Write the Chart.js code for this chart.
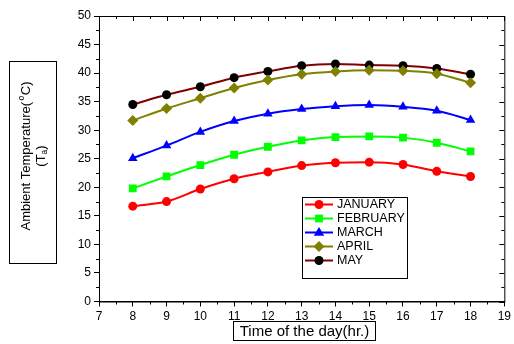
<!DOCTYPE html>
<html>
<head>
<meta charset="utf-8">
<script src="https://cdn.jsdelivr.net/npm/chart.js@4/dist/chart.umd.min.js"></script>
<style>
  html, body { margin: 0; padding: 0; background: #fff; }
  #wrap { width: 514px; height: 344px; position: relative; }
</style>
</head>
<body>
<div id="wrap"><canvas id="chart"></canvas></div>
<script>
// hours of the day (x values)
const hours = [8, 9, 10, 11, 12, 13, 14, 15, 16, 17, 18];

// ambient temperature readings per month
const january = [16.7, 17.5, 19.7, 21.5, 22.7, 23.8, 24.3, 24.4, 24.0, 22.8, 21.9];
const february = [19.8, 21.9, 23.9, 25.7, 27.1, 28.2, 28.8, 28.9, 28.7, 27.8, 26.3];
const march = [25.1, 27.3, 29.7, 31.6, 32.9, 33.7, 34.2, 34.4, 34.1, 33.4, 31.8];
const april = [31.7, 33.8, 35.6, 37.4, 38.8, 39.8, 40.3, 40.5, 40.4, 39.9, 38.3];
const may = [34.5, 36.2, 37.6, 39.2, 40.3, 41.3, 41.6, 41.4, 41.3, 40.8, 39.8];

const monthNames = ['JANUARY', 'FEBRUARY', 'MARCH', 'APRIL', 'MAY'];

const FONT = 'Arial, "Liberation Sans", sans-serif';

const toPoints = vals => vals.map((v, i) => ({ x: hours[i], y: v }));

const makeSet = (label, vals, line, fill, style, radius) => ({
  label,
  data: toPoints(vals),
  borderColor: line,
  backgroundColor: fill,
  pointBackgroundColor: fill,
  pointBorderColor: fill,
  pointBorderWidth: 0,
  pointStyle: style,
  pointRadius: radius,
  borderWidth: 2,
  cubicInterpolationMode: 'monotone',
});

const datasets = [
  makeSet(monthNames[0], january, '#ff0000', '#ff0000', 'circle', 4.5),
  makeSet(monthNames[1], february, '#00ff00', '#00ff00', 'rect', 5.5),
  makeSet(monthNames[2], march, '#0000ff', '#0000ff', 'triangle', 5.5),
  makeSet(monthNames[3], april, '#808000', '#808000', 'rectRot', 5.5),
  makeSet(monthNames[4], may, '#800000', '#000000', 'circle', 4.5),
];

// Draw a small marker for the legend
function drawMarker(ctx, style, x, y, r, color) {
  ctx.fillStyle = color;
  ctx.beginPath();
  if (style === 'circle') {
    ctx.arc(x, y, r, 0, Math.PI * 2);
  } else if (style === 'rect') {
    const s = r * Math.SQRT1_2;
    ctx.rect(x - s, y - s, 2 * s, 2 * s);
  } else if (style === 'triangle') {
    ctx.moveTo(x, y - r);
    ctx.lineTo(x + r * 0.95, y + r * 0.6);
    ctx.lineTo(x - r * 0.95, y + r * 0.6);
    ctx.closePath();
  } else if (style === 'rectRot') {
    ctx.moveTo(x, y - r);
    ctx.lineTo(x + r, y);
    ctx.lineTo(x, y + r);
    ctx.lineTo(x - r, y);
    ctx.closePath();
  }
  ctx.fill();
}

// Frame, mirrored ticks, minor ticks, boxed titles and the inset legend
const decorations = {
  id: 'decorations',
  afterDraw(chart) {
    const ctx = chart.ctx;
    const { left, right, top, bottom } = chart.chartArea;
    const xs = chart.scales.x;
    const ys = chart.scales.y;
    ctx.save();
    ctx.strokeStyle = '#000';
    ctx.lineWidth = 1;

    // frame
    ctx.strokeRect(left + 0.5, top + 0.5, right - left, bottom - top);

    ctx.beginPath();
    for (let v = 7; v <= 19; v += 0.5) {
      const px = Math.round(xs.getPixelForValue(v)) + 0.5;
      const major = Number.isInteger(v);
      const len = major ? 5 : 3;
      // top inward ticks
      ctx.moveTo(px, top);
      ctx.lineTo(px, top + len);
      if (!major) {
        ctx.moveTo(px, bottom);
        ctx.lineTo(px, bottom + len);
      }
    }
    for (let v = 0; v <= 50; v += 2.5) {
      const py = Math.round(ys.getPixelForValue(v)) + 0.5;
      const major = v % 5 === 0;
      const len = major ? 5 : 3;
      // right inward ticks
      ctx.moveTo(right, py);
      ctx.lineTo(right - len, py);
      if (!major) {
        ctx.moveTo(left, py);
        ctx.lineTo(left - len, py);
      }
    }
    ctx.stroke();

    // x title box
    ctx.fillStyle = '#000';
    ctx.font = '15px ' + FONT;
    ctx.textAlign = 'center';
    ctx.textBaseline = 'middle';
    ctx.strokeRect(233.5, 321.5, 142, 19);
    ctx.fillText('Time of the day(hr.)', 304.5, 331.5);

    // y title box
    const big = '13px ' + FONT;
    const small = '8.5px ' + FONT;
    ctx.strokeRect(9.5, 61.5, 47, 202);
    ctx.save();
    ctx.translate(26, 156);
    ctx.rotate(-Math.PI / 2);
    ctx.textAlign = 'left';
    const p1 = 'Ambient Temperature(';
    const p2 = 'C)';
    ctx.font = big;
    const w1 = ctx.measureText(p1).width;
    const w2 = ctx.measureText(p2).width;
    ctx.font = small;
    const wo = ctx.measureText('o').width + 2;
    const x0 = -(w1 + wo + w2) / 2;
    ctx.font = big;
    ctx.fillText(p1, x0, 0);
    ctx.font = small;
    ctx.fillText('o', x0 + w1 + 1.5, -4);
    ctx.font = big;
    ctx.fillText(p2, x0 + w1 + wo, 0);
    ctx.restore();

    ctx.save();
    ctx.translate(41, 156);
    ctx.rotate(-Math.PI / 2);
    ctx.textAlign = 'left';
    ctx.font = big;
    const a = ctx.measureText('(T').width;
    const c = ctx.measureText(')').width;
    ctx.font = small;
    const b = ctx.measureText('a').width;
    const s0 = -(a + b + c) / 2;
    ctx.font = big;
    ctx.fillText('(T', s0, 0);
    ctx.font = small;
    ctx.fillText('a', s0 + a, 4);
    ctx.font = big;
    ctx.fillText(')', s0 + a + b, 0);
    ctx.restore();

    // legend
    ctx.strokeStyle = '#000';
    ctx.lineWidth = 1;
    ctx.strokeRect(302.5, 197.5, 105, 81);
    ctx.font = '12.5px ' + FONT;
    ctx.textAlign = 'left';
    ctx.textBaseline = 'middle';
    const rows = [204.5, 218.5, 232.5, 246.5, 260.5];
    chart.data.datasets.forEach((ds, i) => {
      const y = rows[i];
      ctx.strokeStyle = ds.borderColor;
      ctx.lineWidth = 2;
      ctx.beginPath();
      ctx.moveTo(305, y);
      ctx.lineTo(333, y);
      ctx.stroke();
      drawMarker(ctx, ds.pointStyle, 319, y, ds.pointRadius, ds.pointBackgroundColor);
      ctx.fillStyle = '#000';
      ctx.fillText(ds.label, 337, y + 0.5);
    });

    ctx.restore();
  },
};

const chart = new Chart(document.getElementById('chart'), {
  type: 'line',
  data: { datasets },
  options: {
    responsive: true,
    maintainAspectRatio: false,
    animation: false,
    layout: { padding: { left: 0, right: 7, top: 16, bottom: 0 } },
    plugins: {
      legend: { display: false },
      tooltip: { enabled: false },
    },
    scales: {
      x: {
        type: 'linear',
        min: 7,
        max: 19,
        afterFit: scale => { scale.height = 42.5; },
        ticks: {
          stepSize: 1,
          color: '#000',
          padding: 3,
          font: { family: FONT, size: 12 },
        },
        grid: { drawOnChartArea: false, drawTicks: true, tickLength: 5, color: '#000' },
        border: { display: true, color: '#000' },
      },
      y: {
        min: 0,
        max: 50,
        afterFit: scale => { scale.width = 99; },
        ticks: {
          stepSize: 5,
          color: '#000',
          padding: 3,
          font: { family: FONT, size: 12 },
        },
        grid: { drawOnChartArea: false, drawTicks: true, tickLength: 5, color: '#000' },
        border: { display: true, color: '#000' },
      },
    },
  },
  plugins: [decorations],
});
</script>
</body>
</html>
